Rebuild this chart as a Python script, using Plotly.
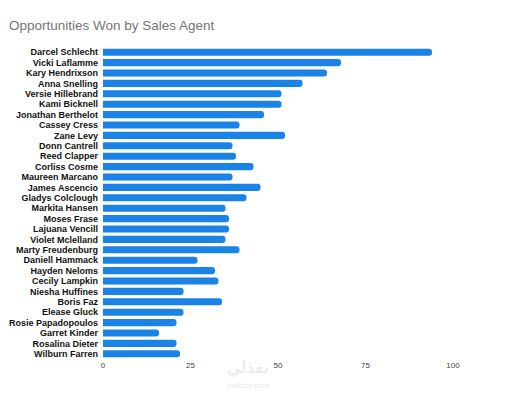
import plotly.graph_objects as go

agents = [
    "Darcel Schlecht", "Vicki Laflamme", "Kary Hendrixson", "Anna Snelling",
    "Versie Hillebrand", "Kami Bicknell", "Jonathan Berthelot", "Cassey Cress",
    "Zane Levy", "Donn Cantrell", "Reed Clapper", "Corliss Cosme",
    "Maureen Marcano", "James Ascencio", "Gladys Colclough", "Markita Hansen",
    "Moses Frase", "Lajuana Vencill", "Violet Mclelland", "Marty Freudenburg",
    "Daniell Hammack", "Hayden Neloms", "Cecily Lampkin", "Niesha Huffines",
    "Boris Faz", "Elease Gluck", "Rosie Papadopoulos", "Garret Kinder",
    "Rosalina Dieter", "Wilburn Farren",
]
won = [94, 68, 64, 57, 51, 51, 46, 39, 52, 37, 38, 43, 37, 45, 41, 35,
       36, 36, 35, 39, 27, 32, 33, 23, 34, 23, 21, 16, 21, 22]
ticks = [0, 25, 50, 75, 100]

fig = go.Figure(go.Bar(
    x=won, y=agents, orientation="h",
    marker=dict(color="#1b82e6", line=dict(width=0), cornerradius=3),
))

# page body has an 8px margin, so the figure is sized 8px smaller
fig.update_layout(
    width=507, height=394,
    paper_bgcolor="white", plot_bgcolor="white",
    margin=dict(l=95, r=62, t=39, b=43, autoexpand=False),
    bargap=0.32,
    showlegend=False,
    title=dict(text="Opportunities Won by Sales Agent", x=0.002, y=0.957,
               xanchor="left", yanchor="middle",
               font=dict(family="Liberation Sans, Arial", size=13.5, color="#757575")),
    font=dict(family="Liberation Sans, Arial"),
)
fig.update_xaxes(range=[0, 100], tickvals=ticks, showgrid=False, zeroline=False,
                 showline=False, ticks="", automargin=False,
                 tickfont=dict(size=8, color="#444444"))
fig.update_yaxes(autorange="reversed", tickmode="array", tickvals=agents,
                 showgrid=False, showline=False, ticks="", automargin=False,
                 ticklabelstandoff=4,
                 tickfont=dict(size=9, color="#111111", family="Liberation Sans, Arial",
                               weight="bold"))

# faint watermark
fig.add_annotation(text="نفذلي", x=0.414, y=-0.067, xref="paper", yref="paper",
                   showarrow=False, font=dict(size=17, color="#e8e8e8", family="Noto Sans"))
fig.add_annotation(text="nafezly.com", x=0.414, y=-0.107, xref="paper", yref="paper",
                   showarrow=False, font=dict(size=8, color="#e8e8e8"))

fig.write_html("out.html")
